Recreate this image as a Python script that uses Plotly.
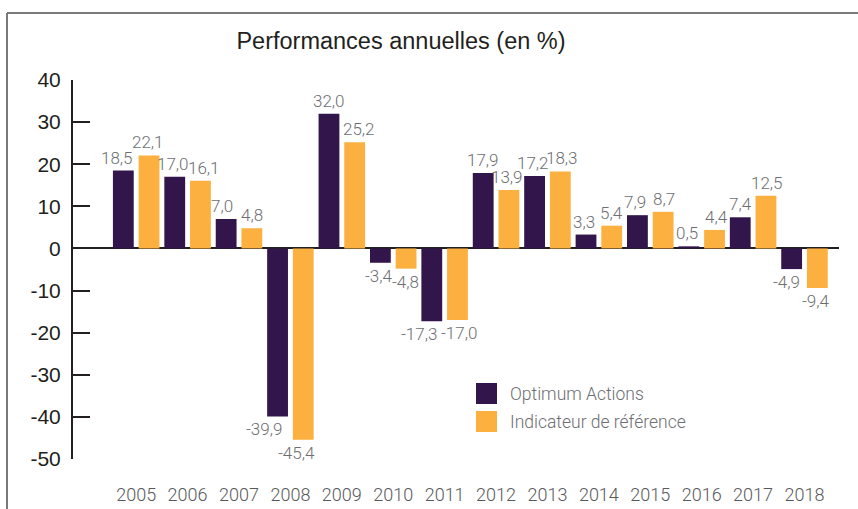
import plotly.graph_objects as go

years = ["2005", "2006", "2007", "2008", "2009", "2010", "2011",
         "2012", "2013", "2014", "2015", "2016", "2017", "2018"]
optimum = [18.5, 17.0, 7.0, -39.9, 32.0, -3.4, -17.3, 17.9, 17.2, 3.3, 7.9, 0.5, 7.4, -4.9]
indicateur = [22.1, 16.1, 4.8, -45.4, 25.2, -4.8, -17.0, 13.9, 18.3, 5.4, 8.7, 4.4, 12.5, -9.4]
series_names = ["Optimum Actions", "Indicateur de référence"]
y_ticks = [-50, -40, -30, -20, -10, 0, 10, 20, 30, 40]

# small horizontal nudges of the value labels (px), as in the reference layout
opt_nudge = [-6, -2, -4, -14, 0, -1, -13, 0, -2, -2, -2, -2, 0, -5]
ind_nudge = [-1.5, 3.5, 0, -7, 4, -1, 1.5, -2, 2, 0, 1, 1.5, 1, -1.5]

PURPLE = "#32154b"
ORANGE = "#fcb040"
DARK = "#231f20"
GRAY = "#6d6e71"
FONT = "Liberation Sans"
LIGHT = "Roboto"

W, H = 858, 509
L, R, T, B = 73, 19, 80, 50
PW, PH = W - L - R, H - T - B
X_RANGE = [-1.229, 13.671]
SLOT = PW / (X_RANGE[1] - X_RANGE[0])
BAR_OFF = SLOT / 4


def px(x):
    return (x - L) / PW


def py(y):
    return (H - B - y) / PH


def fmt(v):
    return f"{v:.1f}".replace(".", ",")


fig = go.Figure()
for name, vals, col in [(series_names[0], optimum, PURPLE), (series_names[1], indicateur, ORANGE)]:
    fig.add_trace(go.Bar(
        x=years, y=vals, name=name, marker=dict(color=col, line=dict(width=0)),
        showlegend=False, hovertemplate="%{x}: %{y}<extra>" + name + "</extra>",
    ))

annotations = []
for vals, nudge, sign in [(optimum, opt_nudge, -1), (indicateur, ind_nudge, 1)]:
    for i, (v, n) in enumerate(zip(vals, nudge)):
        annotations.append(dict(
            x=i, y=v, xref="x", yref="y", text=fmt(v), showarrow=False,
            xanchor="center", yanchor="bottom" if v >= 0 else "top",
            xshift=sign * BAR_OFF + n, yshift=1 if v >= 0 else -1,
            font=dict(family=LIGHT, size=17, color=GRAY, weight=300),
        ))

shapes = [
    # frame
    dict(type="line", xref="paper", yref="paper", x0=px(7), x1=px(858), y0=py(13), y1=py(13),
         line=dict(color="#7a7a7a", width=2)),
    dict(type="line", xref="paper", yref="paper", x0=px(7), x1=px(7), y0=py(13), y1=py(509),
         line=dict(color="#7a7a7a", width=2)),
    # legend swatches
    dict(type="rect", xref="paper", yref="paper", x0=px(476), x1=px(497), y0=py(383), y1=py(404),
         fillcolor=PURPLE, line=dict(width=0)),
    dict(type="rect", xref="paper", yref="paper", x0=px(476), x1=px(497), y0=py(411), y1=py(432),
         fillcolor=ORANGE, line=dict(width=0)),
]
annotations += [
    dict(xref="paper", yref="paper", x=px(508), y=py(393.5), xanchor="left", yanchor="middle",
         text=series_names[0], showarrow=False,
         font=dict(family=LIGHT, size=17.5, color=GRAY, weight=300)),
    dict(xref="paper", yref="paper", x=px(508), y=py(421.5), xanchor="left", yanchor="middle",
         text=series_names[1], showarrow=False,
         font=dict(family=LIGHT, size=17.5, color=GRAY, weight=300)),
]

fig.update_layout(
    width=W, height=H, autosize=False,
    margin=dict(l=L, r=R, t=T, b=B, pad=0, autoexpand=False),
    paper_bgcolor="white", plot_bgcolor="white",
    barmode="group", bargap=0.0, bargroupgap=0.19,
    title=dict(text="Performances annuelles (en %)", x=401 / W, xref="container", xanchor="center",
               y=1 - 41 / H, yref="container", yanchor="middle",
               font=dict(family=FONT, size=23.5, color=DARK), automargin=False),
    xaxis=dict(type="category", range=X_RANGE, showgrid=False, showline=False,
               ticks="", zeroline=False, ticklabelstandoff=23, automargin=False,
               tickfont=dict(family=LIGHT, size=18, color="#58595b", weight=300)),
    yaxis=dict(range=[-50, 40], tickvals=y_ticks, ticktext=[str(v) for v in y_ticks],
               showgrid=False, showline=True, linewidth=2, linecolor=DARK,
               ticks="inside", ticklen=17, tickwidth=2, tickcolor=DARK, automargin=False,
               ticklabelstandoff=6,
               zeroline=True, zerolinewidth=2, zerolinecolor=DARK,
               tickfont=dict(family=FONT, size=21, color=DARK)),
    shapes=shapes, annotations=annotations,
    showlegend=False,
)

fig.write_html("out.html")
